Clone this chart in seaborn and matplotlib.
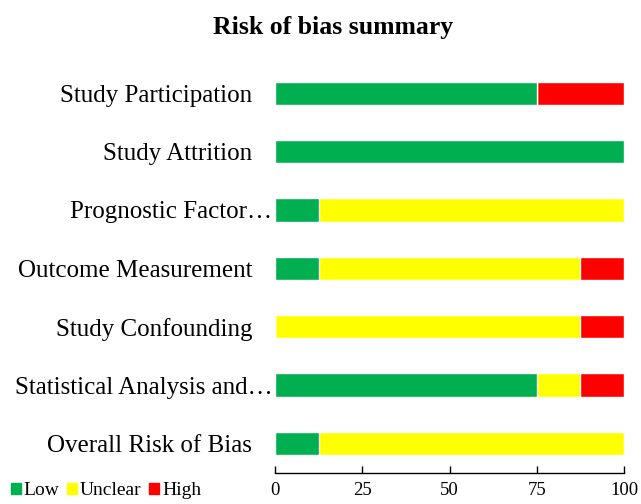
import pandas as pd
import matplotlib.pyplot as plt
import matplotlib.transforms as mtransforms
import seaborn as sns
from matplotlib.patches import Patch

# Data (percent of studies)
domains = ['Study Participation', 'Study Attrition', 'Prognostic Factor\u2026',
           'Outcome Measurement', 'Study Confounding', 'Statistical Analysis and\u2026',
           'Overall Risk of Bias']
low = [75, 100, 12.5, 12.5, 0, 75, 12.5]
unclear = [0, 0, 87.5, 75, 87.5, 12.5, 87.5]
high = [25, 0, 0, 12.5, 12.5, 12.5, 0]
xticks = [0, 25, 50, 75, 100]

colors = {'Low': '#00B050', 'Unclear': '#FFFF00', 'High': '#FF0000'}

df = pd.DataFrame({'Domain': domains, 'Low': low, 'Unclear': unclear, 'High': high})
df['LowUnclear'] = df['Low'] + df['Unclear']
df['Total'] = df['LowUnclear'] + df['High']

sns.set_style('white')
plt.rcParams['font.family'] = ['Liberation Serif', 'DejaVu Serif']
plt.rcParams['text.color'] = 'black'
plt.rcParams['axes.labelcolor'] = 'black'
plt.rcParams['xtick.color'] = 'black'
plt.rcParams['ytick.color'] = 'black'

fig = plt.figure(figsize=(6.41, 5.04), dpi=100)
ax = fig.add_axes([0.429, 0.062, 0.5445, 0.811])

# stacked bars by layering cumulative totals
sns.barplot(data=df, x='Total', y='Domain', color=colors['High'], width=0.4,
            saturation=1, orient='h', ax=ax)
sns.barplot(data=df, x='LowUnclear', y='Domain', color=colors['Unclear'], width=0.4,
            saturation=1, orient='h', ax=ax)
sns.barplot(data=df, x='Low', y='Domain', color=colors['Low'], width=0.4,
            saturation=1, orient='h', ax=ax)

ax.set_xlim(0, 100)
ax.set_ylim(6.5, -0.5)
ax.set_xticks(xticks)
ax.set_xlabel('')
ax.set_ylabel('')
ax.tick_params(axis='y', length=0, pad=2, labelsize=18)
ax.tick_params(axis='x', direction='in', length=5, width=1, color='black',
               pad=7, labelsize=13.5, bottom=True)
# full labels sit a little further from the axis than the truncated ones
for lab in ax.get_yticklabels():
    if not lab.get_text().endswith('\u2026'):
        lab.set_transform(lab.get_transform() +
                          mtransforms.ScaledTranslation(-20 / 100, 0, fig.dpi_scale_trans))
for s in ['top', 'right', 'left']:
    ax.spines[s].set_visible(False)
ax.spines['bottom'].set_color('black')
ax.spines['bottom'].set_linewidth(1)

fig.suptitle('Risk of bias summary', x=0.519, y=0.968, fontsize=18.5, fontweight='bold')

handles = [Patch(color=colors[k], label=k) for k in ['Low', 'Unclear', 'High']]
fig.legend(handles=handles, loc='lower left', bbox_to_anchor=(-0.01, -0.025), ncol=3,
           frameon=False, fontsize=14, handlelength=0.5, handleheight=0.5,
           handletextpad=0.15, columnspacing=0.4)

fig.savefig('out.png', dpi=100)
